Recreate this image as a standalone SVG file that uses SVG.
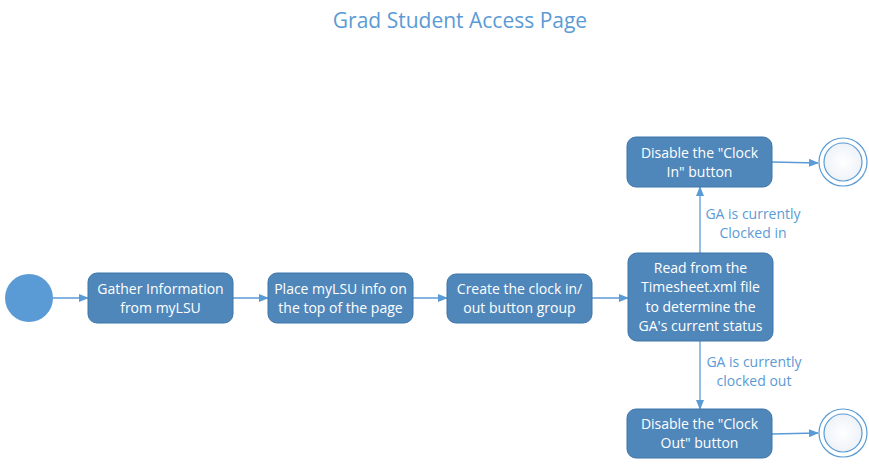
<svg xmlns="http://www.w3.org/2000/svg" width="869" height="466" viewBox="0 0 869 466">
<defs>
<style>
.box{fill:#4f87bb;stroke:#3f75a8;stroke-width:1}
.bt{font-family:"Open Sans","Noto Sans",sans-serif;font-size:14px;fill:#ffffff;text-anchor:middle}
.lbl{font-family:"Open Sans","Noto Sans",sans-serif;font-size:14px;fill:#5b9bd5;text-anchor:middle}
.conn{stroke:#5b9bd5;stroke-width:1.3;fill:none;marker-end:url(#ah)}
.endo{fill:#ffffff;stroke:#5b9bd5;stroke-width:1.2}
</style>
<marker id="ah" markerWidth="10" markerHeight="8" refX="9" refY="4" orient="auto" markerUnits="userSpaceOnUse">
<path d="M0,0 L10,4 L0,8 z" fill="#5b9bd5"/>
</marker>
<radialGradient id="eg" cx="0.5" cy="0.5" r="0.5">
<stop offset="0" stop-color="#ffffff"/>
<stop offset="1" stop-color="#eef2f8"/>
</radialGradient>
</defs>
<rect width="869" height="466" fill="#ffffff"/>
<text x="460" y="28" font-family="'Open Sans','Noto Sans',sans-serif" font-size="21" fill="#5b9bd5" text-anchor="middle">Grad Student Access Page</text>

<g id="connectors">
<path class="conn" d="M53,298 L88,298"/>
<path class="conn" d="M233,298 L268,298"/>
<path class="conn" d="M413,298 L447,298"/>
<path class="conn" d="M592,298 L628,298"/>
<path class="conn" d="M700,253 L700,187"/>
<path class="conn" d="M700,341 L700,409"/>
<path class="conn" d="M772,162 L818,163"/>
<path class="conn" d="M772,434 L818,433"/>
<text class="lbl" x="753" y="219">GA is currently</text>
<text class="lbl" x="753" y="238">Clocked in</text>
<text class="lbl" x="754" y="367">GA is currently</text>
<text class="lbl" x="754" y="386">clocked out</text>
</g>

<g id="start"><circle cx="29" cy="298" r="24" fill="#5b9bd5"/></g>

<g id="n1"><rect class="box" x="88" y="273" width="145" height="50" rx="9"/>
<text class="bt" x="160.5" y="294">Gather Information</text>
<text class="bt" x="160.5" y="313">from myLSU</text></g>

<g id="n2"><rect class="box" x="268" y="273" width="145" height="50" rx="9"/>
<text class="bt" x="340.5" y="294">Place myLSU info on</text>
<text class="bt" x="340.5" y="313">the top of the page</text></g>

<g id="n3"><rect class="box" x="447" y="274" width="145" height="49" rx="9"/>
<text class="bt" x="519.5" y="294">Create the clock in/</text>
<text class="bt" x="519.5" y="313">out button group</text></g>

<g id="n4"><rect class="box" x="628" y="253" width="145" height="88" rx="9"/>
<text class="bt" x="700.5" y="273">Read from the</text>
<text class="bt" x="700.5" y="292">Timesheet.xml file</text>
<text class="bt" x="700.5" y="312">to determine the</text>
<text class="bt" x="700.5" y="331">GA's current status</text></g>

<g id="n5"><rect class="box" x="627" y="137" width="145" height="50" rx="9"/>
<text class="bt" x="699.5" y="158">Disable the "Clock</text>
<text class="bt" x="699.5" y="177">In" button</text></g>

<g id="n6"><rect class="box" x="627" y="409" width="145" height="49" rx="9"/>
<text class="bt" x="699.5" y="429">Disable the "Clock</text>
<text class="bt" x="699.5" y="448">Out" button</text></g>

<g id="end1"><circle class="endo" cx="843" cy="162" r="24"/><circle cx="843" cy="162" r="19" fill="url(#eg)" stroke="#5b9bd5" stroke-width="1.2"/></g>
<g id="end2"><circle class="endo" cx="843" cy="433" r="24"/><circle cx="843" cy="433" r="19" fill="url(#eg)" stroke="#5b9bd5" stroke-width="1.2"/></g>
</svg>
